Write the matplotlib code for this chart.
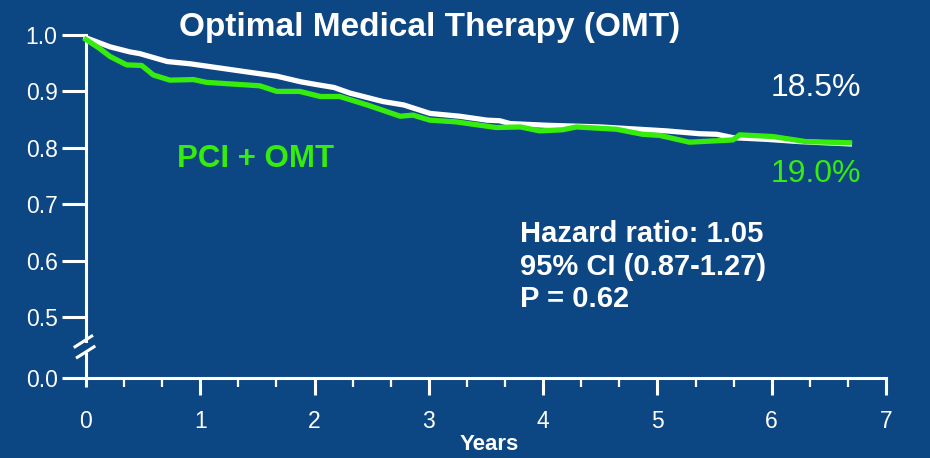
import numpy as np
from matplotlib import pyplot as plt

plt.rcParams['font.family'] = ['Liberation Sans', 'DejaVu Sans']

# Kaplan-Meier style survival curves
omt_years = [0.0, 0.21, 0.385, 0.47, 0.71, 0.91, 1.29, 1.67, 1.88, 2.02, 2.17, 2.31,
             2.60, 2.78, 3.01, 3.27, 3.51, 3.62, 3.71, 4.03, 4.50, 5.08, 5.37, 5.52,
             5.66, 5.96, 6.25, 6.68]
omt_surv = [0.995, 0.979, 0.970, 0.967, 0.953, 0.949, 0.938, 0.927, 0.917, 0.912, 0.907, 0.897,
            0.882, 0.876, 0.861, 0.856, 0.849, 0.848, 0.843, 0.840, 0.837, 0.830, 0.825, 0.824,
            0.818, 0.815, 0.811, 0.807]

pci_years = [0.0, 0.12, 0.21, 0.356, 0.487, 0.59, 0.735, 0.94, 1.056, 1.52, 1.67, 1.87,
             2.05, 2.22, 2.46, 2.75, 2.86, 3.01, 3.24, 3.59, 3.80, 3.97, 4.17, 4.29,
             4.64, 4.87, 5.02, 5.28, 5.66, 5.72, 6.01, 6.30, 6.68]
pci_surv = [0.992, 0.976, 0.962, 0.947, 0.946, 0.929, 0.920, 0.921, 0.916, 0.910, 0.900, 0.900,
            0.891, 0.891, 0.876, 0.856, 0.858, 0.849, 0.846, 0.836, 0.837, 0.830, 0.832, 0.837,
            0.833, 0.824, 0.822, 0.810, 0.814, 0.823, 0.820, 0.811, 0.809]

x_ticks = [0, 1, 2, 3, 4, 5, 6, 7]
y_labels = ['0.0', '0.5', '0.6', '0.7', '0.8', '0.9', '1.0']

BG = '#0c4683'
GREEN = '#35ec0c'
W, H = 930, 458


def fx(px):
    return px / W


def fy(py):
    return 1 - py / H


fig = plt.figure(figsize=(9.3, 4.58), dpi=100, facecolor=BG)
ax = fig.add_axes([fx(86), fy(378), fx(886) - fx(86), fy(35) - fy(378)])
ax.set_facecolor(BG)

# broken y axis: the "0.0" sits just below the break
y_zero = 0.392
ax.set_xlim(0, 7)
ax.set_ylim(y_zero, 1.0)

ax.plot(omt_years, omt_surv, color='white', lw=3.8, clip_on=False, zorder=3)
ax.plot(pci_years, pci_surv, color=GREEN, lw=3.8, clip_on=False, zorder=4)

for s in ['top', 'right']:
    ax.spines[s].set_visible(False)
for s in ['left', 'bottom']:
    ax.spines[s].set_color('white')
    ax.spines[s].set_linewidth(2.2)
ax.spines['left'].set_bounds(0.457, 1.0)
ax.plot([0, 0], [y_zero, 0.438], color='white', lw=2.2, clip_on=False, solid_capstyle='butt')
# break marks
ax.plot([-0.096, 0.05], [0.4473, 0.4663], color='white', lw=2.2, clip_on=False)
ax.plot([-0.076, 0.07], [0.4286, 0.4473], color='white', lw=2.2, clip_on=False)

ax.set_yticks([y_zero, 0.5, 0.6, 0.7, 0.8, 0.9, 1.0])
ax.set_yticklabels(y_labels)
ax.set_xticks(x_ticks)
ax.set_xticklabels([str(t) for t in x_ticks])
ax.set_xticks([t + k / 3 for t in range(7) for k in (1, 2)], minor=True)

ax.tick_params(axis='y', colors='white', length=17, width=2.2, pad=3.5, labelsize=16.5)
ax.tick_params(axis='x', which='major', colors='white', length=12, width=2.2, pad=11, labelsize=16.5)
ax.tick_params(axis='x', which='minor', colors='white', length=6.5, width=1.6)
ax.xaxis.get_major_ticks()[0].tick1line.set_markersize(6.5)

# texts
fig.text(fx(430), fy(36), 'Optimal Medical Therapy (OMT)', color='white', fontsize=24,
         fontweight='bold', ha='center', va='baseline')
fig.text(fx(177), fy(167), 'PCI + OMT', color=GREEN, fontsize=22.5, fontweight='bold',
         ha='left', va='baseline')
fig.text(fx(771), fy(96), '18.5%', color='white', fontsize=23, ha='left', va='baseline')
fig.text(fx(771), fy(182), '19.0%', color=GREEN, fontsize=23, ha='left', va='baseline')
fig.text(fx(520), fy(242), 'Hazard ratio: 1.05', color='white', fontsize=21, fontweight='bold',
         ha='left', va='baseline')
fig.text(fx(520), fy(275), '95% CI (0.87-1.27)', color='white', fontsize=21, fontweight='bold',
         ha='left', va='baseline')
fig.text(fx(520), fy(307), 'P = 0.62', color='white', fontsize=21, fontweight='bold',
         ha='left', va='baseline')
fig.text(fx(489), fy(450), 'Years', color='white', fontsize=16, fontweight='bold',
         ha='center', va='baseline')

fig.savefig('out.png', dpi=100, facecolor=BG)
